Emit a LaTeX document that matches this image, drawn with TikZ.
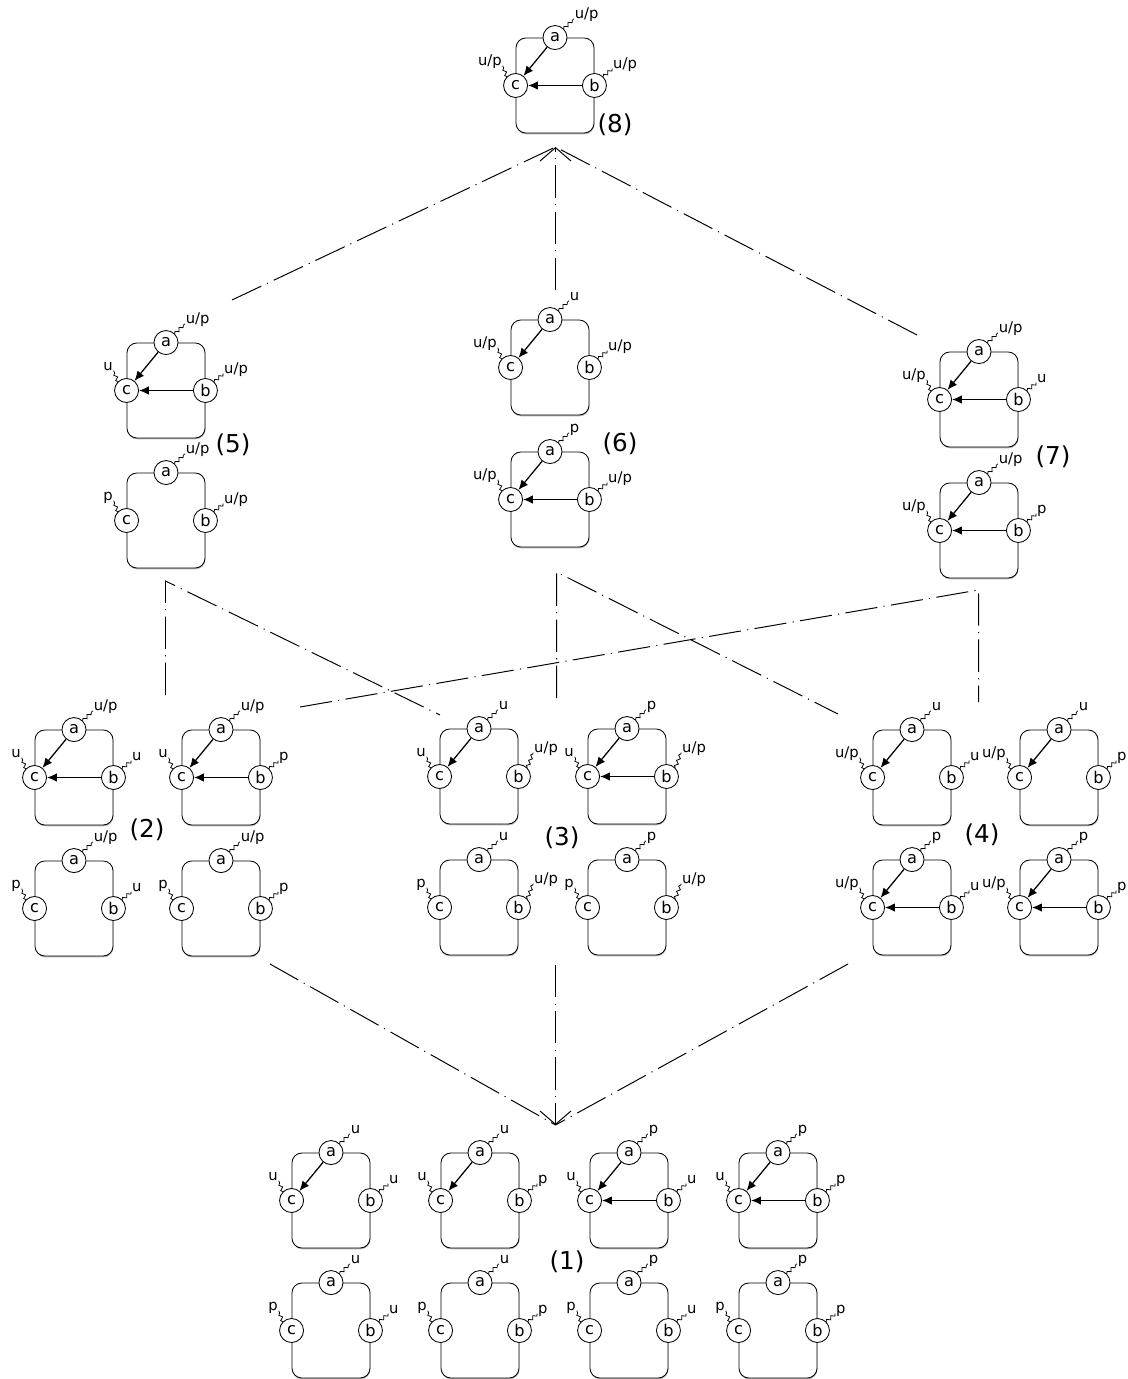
\documentclass[tikz,border=0pt]{standalone}
\usepackage{fontspec}
\setmainfont{DejaVu Sans}
\usetikzlibrary{arrows.meta,decorations.pathmorphing,shadows}
\tikzset{
  cellbox/.style={draw,fill=white,rounded corners=7pt,minimum width=1.95cm,
    minimum height=2.375cm,inner sep=0pt,line width=.6pt,
    drop shadow={shadow xshift=.3pt,shadow yshift=-.9pt,fill=black!60}},
  var/.style={circle,draw,fill=white,minimum size=.6cm,inner sep=0pt,
    line width=.6pt,font=\fontsize{11.5}{12}\selectfont},
  tag/.style={inner sep=.5pt,font=\fontsize{10.5}{12}\selectfont},
  wiggle/.style={decorate,decoration={snake,amplitude=1.1pt,
    segment length=4pt},line width=.55pt},
  dep/.style={-{Latex[length=7pt,width=6pt]},line width=.9pt}}
\newcommand{\cell}[7][9,-8]{%
  \node[cellbox] (#2) at (#3) {};
  \node[var] (#2a) at (#2.north) {a};
  \node[var] (#2c) at (#2.west) {c};
  \node[var] (#2b) at (#2.east) {b};
  \node[tag,anchor=base west] (#2la) at ([shift={(10,-10)}]#2a.45) {#4};
  \node[tag,anchor=base east] (#2lc) at ([shift={(-4,-11)}]#2c.135) {#5};
  \node[tag,anchor=base west] (#2lb) at ([shift={(#1)}]#2b.45) {#6};
  \draw[wiggle] (#2a.45) -- (#2la.base west);
  \draw[wiggle] (#2c.135) -- (#2lc.base east);
  \draw[wiggle] (#2b.45) -- (#2lb.base west);
  \ifnum#7>0 \draw[dep] (#2a) -- (#2c);\fi
  \ifnum#7>1 \draw[dep] (#2b) -- (#2c);\fi}

\begin{document}
\begin{tikzpicture}[x=.025cm,y=-.025cm,
  rel/.style={line width=.7pt,dash pattern=on 23pt off 4.5pt on .8pt off 4.5pt},
  cover/.style={rel,-{Straight Barb[length=9.5pt,width=22pt]}},
  level/.style={font=\fontsize{17.5}{20}\selectfont,inner sep=0pt}]
  \useasboundingbox (0,0) rectangle (1127,1379);

  \cell{s8}{555,85.5}{u/p}{u/p}{u/p}{2}
  \node[level] (n8) at (615,125) {(8)};

  \cell{s5u}{166,390.5}{u/p}{u}{u/p}{2}
  \cell{s5l}{166,520.5}{u/p}{p}{u/p}{0}
  \node[level] (n5) at (233,445) {(5)};
  \cell{s6u}{550,367.5}{u}{u/p}{u/p}{1}
  \cell{s6l}{550,499.5}{p}{u/p}{u/p}{2}
  \node[level] (n6) at (620,444) {(6)};
  \cell{s7u}{979,399.5}{u/p}{u/p}{u}{2}
  \cell{s7l}{979,530.5}{u/p}{u/p}{p}{2}
  \node[level] (n7) at (1053,457) {(7)};

  \cell{s2a}{74,777.5}{u/p}{u}{u}{2}
  \cell{s2b}{221,777.5}{u/p}{u}{p}{2}
  \cell{s2c}{74,908.5}{u/p}{p}{u}{0}
  \cell{s2d}{221,908.5}{u/p}{p}{p}{0}
  \node[level] (n2) at (147,830) {(2)};
  \cell[6,-15]{s3a}{479,776.5}{u}{u}{u/p}{1}
  \cell[6,-15]{s3b}{627,776.5}{p}{u}{u/p}{2}
  \cell[6,-15]{s3c}{479,907.5}{u}{p}{u/p}{0}
  \cell[6,-15]{s3d}{627,907.5}{p}{p}{u/p}{0}
  \node[level] (n3) at (562,838) {(3)};
  \cell{s4a}{912,777.5}{u}{u/p}{u}{1}
  \cell{s4b}{1059,777.5}{u}{u/p}{p}{1}
  \cell{s4c}{912,907.5}{p}{u/p}{u}{2}
  \cell{s4d}{1059,907.5}{p}{u/p}{p}{2}
  \node[level] (n4) at (982,835) {(4)};

  \cell{s1a}{331,1200.5}{u}{u}{u}{1}
  \cell{s1b}{480,1200.5}{u}{u}{p}{1}
  \cell{s1c}{629,1200.5}{p}{u}{u}{2}
  \cell{s1d}{778,1200.5}{p}{u}{p}{2}
  \cell{s1e}{331,1330.5}{u}{p}{u}{0}
  \cell{s1f}{480,1330.5}{u}{p}{p}{0}
  \cell{s1g}{629,1330.5}{p}{p}{u}{0}
  \cell{s1h}{778,1330.5}{p}{p}{p}{0}
  \node[level] (n1) at (567,1262) {(1)};

  \coordinate (j8) at (555.5,147);
  \coordinate (f5) at (232,300);
  \coordinate (f6) at (555.5,290);
  \coordinate (f7) at (917,335);
  \draw[rel] (f5) -- (j8);
  \draw[rel] (f7) -- (j8);
  \draw[cover] (f6) -- (j8);

  \coordinate (j5) at (165.5,581);
  \coordinate (g5a) at (165.5,695);
  \coordinate (g5b) at (440,715);
  \draw[rel] (g5a) -- (j5) -- (g5b);
  \coordinate (j6) at (556.5,572);
  \coordinate (g6a) at (556.5,698);
  \coordinate (g6b) at (838,714);
  \draw[rel] (g6a) -- (j6) -- (g6b);
  \coordinate (j7) at (978.5,590);
  \coordinate (g7a) at (300,707);
  \coordinate (g7b) at (978.5,702);
  \draw[rel] (g7a) -- (j7) -- (g7b);

  \coordinate (j1) at (555.5,1125);
  \coordinate (h2) at (270,964);
  \coordinate (h3) at (555.5,965);
  \coordinate (h4) at (848,964);
  \draw[rel] (h2) -- (j1);
  \draw[rel] (h4) -- (j1);
  \draw[cover] (h3) -- (j1);
\end{tikzpicture}
\end{document}
